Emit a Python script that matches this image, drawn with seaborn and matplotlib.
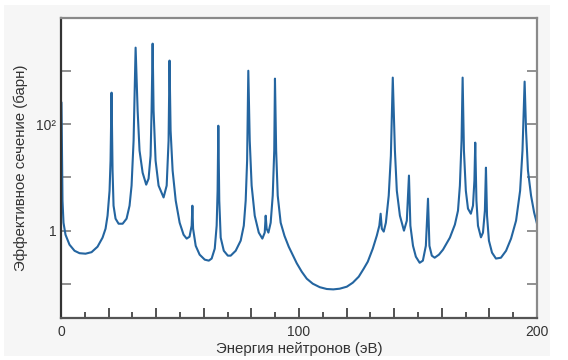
import numpy as np
import pandas as pd
import matplotlib
matplotlib.use('Agg')
import matplotlib.pyplot as plt
import seaborn as sns
from matplotlib.ticker import FixedLocator, FixedFormatter, NullLocator
from matplotlib.patches import Rectangle

# энергия нейтронов (эВ) и эффективное сечение (барн)
energy = [0.2, 0.63, 1.05, 1.89, 3.57, 5.68, 7.78, 10.3, 12.83, 15.35, 17.46, 18.72, 19.56,
          20.4, 20.82, 21.24, 21.66, 22.08, 22.92, 24.2, 25.9, 27.55, 28.8, 29.65, 30.5,
          31.35, 32.2, 33.0, 34.3, 35.8, 36.8, 37.64, 38.06, 38.5, 38.9, 39.74, 41.0, 43.1,
          44.4, 45.2, 45.6, 46.05, 46.9, 48.2, 49.85, 51.5, 52.8, 54.0, 54.9, 55.2, 55.5,
          56.6, 58.25, 60.4, 62.1, 63.3, 64.6, 65.4, 65.8, 66.1, 66.5, 67.1, 68.4, 70.1,
          71.3, 73.4, 75.5, 76.8, 77.6, 78.2, 78.7, 79.3, 80.1, 81.4, 83.1, 84.6, 85.6,
          86.0, 86.4, 87.15, 88.1, 88.96, 89.6, 89.9, 90.4, 91.06, 92.3, 93.9,
          95.69, 97.37, 99.05, 101.15, 103.26, 105.78, 108.72, 111.67, 114.4, 117.1,
          120.1, 122.6, 125.1, 127.2, 128.9,
          131.0, 132.7, 133.75, 134.3, 134.8,
          135.6, 136.5, 137.7, 138.6, 139.4, 140.3, 141.1, 142.4, 144.1, 145.3, 146.2,
          146.8, 147.9, 149.1, 150.7, 152.05, 153.3, 154.2, 154.8, 155.8, 157.0, 158.8,
          160.5, 161.7, 163.4, 165.5, 166.8, 167.6, 168.3, 168.75, 169.3, 170.1, 171.0,
          172.2, 173.1, 173.7, 174.05, 174.55, 175.2, 176.45, 177.3, 178.1, 178.55, 179.0,
          179.8, 181.1, 182.75, 184.85, 187.0, 189.1, 191.2, 192.9, 193.9, 194.8, 195.4,
          196.2, 197.5, 198.8, 200.0]

sigma = [255, 3.66, 1.41, 0.84, 0.546, 0.42, 0.378, 0.37, 0.395, 0.50, 0.74, 1.09, 1.91,
         5.6, 20.6, 388, 13.4, 2.94, 1.68, 1.35, 1.35, 1.68, 2.94, 7.0, 48.8,
         2710, 178, 31.7, 12.2, 7.3, 9.46, 25.5, 178, 3220, 178, 20.6, 7.0, 4.2,
         7.0, 48.8, 1550, 75, 13.4, 3.66, 1.41, 0.84, 0.71, 0.77, 1.24, 2.94, 1.09,
         0.52, 0.355, 0.286, 0.274, 0.30, 0.46, 1.24, 5.6, 93, 3.66, 0.74, 0.42, 0.34,
         0.34, 0.42, 0.65, 1.24, 3.66, 20.6, 1000, 48.8, 7.0, 1.91, 0.92, 0.71, 0.92,
         1.91, 1.09, 0.92, 1.41, 4.54, 31.7, 711, 31.7, 4.54, 1.41, 0.80,
         0.50, 0.350, 0.245, 0.170, 0.1257, 0.1013, 0.0871, 0.0805, 0.0792, 0.0816,
         0.0890, 0.1057, 0.137, 0.194, 0.262,
         0.46, 0.81, 1.24, 2.08, 1.09,
         0.96, 1.41, 4.54, 25.5, 743, 31.7, 5.6, 1.91, 1.0, 1.54, 10.8,
         1.24, 0.52, 0.325, 0.25, 0.274, 0.52, 3.98, 0.52, 0.34, 0.311, 0.355,
         0.44, 0.546, 0.74, 1.30, 2.37, 7.0, 48.8, 743, 31.7, 5.6, 2.59,
         2.08, 2.94, 8.67, 44.8, 3.66, 1.24, 0.75, 0.92, 2.37, 15.2, 1.91,
         0.65, 0.387, 0.30, 0.311, 0.42, 0.71, 1.54, 5.6, 31.7, 625, 75,
         13.4, 4.54, 2.18, 1.35]

# подписи осей
x_major = [0, 20, 40, 60, 80, 100, 120, 140, 160, 180, 200]
x_minor = [10, 30, 50, 70, 90, 110, 130, 150, 170, 190]
x_labels = ['0', '', '', '', '', '100', '', '', '', '', '200']
y_ticks = [0.1, 1, 10, 100, 1000]
y_labels = ['', '1', '', '10²', '']

df = pd.DataFrame({'E': energy, 'sigma': sigma})

sns.set_theme(style='ticks')
plt.rcParams['font.family'] = ['Liberation Sans', 'DejaVu Sans']

fig = plt.figure(figsize=(5.68, 3.6), dpi=100, facecolor='white')
fig.patches.append(Rectangle((4 / 568, 0.012), 546 / 568, 0.975, transform=fig.transFigure,
                             facecolor='#f6f6f6', edgecolor='none', zorder=-10))
ax = fig.add_axes([61 / 568, 1 - 318 / 360, 476 / 568, 300 / 360])
ax.set_facecolor('white')

sns.lineplot(data=df, x='E', y='sigma', ax=ax, color='#2465a0', linewidth=1.5,
             estimator=None, sort=False)

ax.set_yscale('log')
ax.set_xlim(0, 200)
ax.set_ylim(10 ** -1.638, 10 ** 3.989)

ax.xaxis.set_major_locator(FixedLocator(x_major))
ax.xaxis.set_major_formatter(FixedFormatter(x_labels))
ax.xaxis.set_minor_locator(FixedLocator(x_minor))
ax.yaxis.set_major_locator(FixedLocator(y_ticks))
ax.yaxis.set_major_formatter(FixedFormatter(y_labels))
ax.yaxis.set_minor_locator(NullLocator())

ax.tick_params(axis='x', which='major', direction='in', length=7, width=1.3,
               color='#444444', labelsize=10, labelcolor='#333333', pad=5)
ax.tick_params(axis='x', which='minor', direction='in', length=4.5, width=1.3,
               color='#444444')
ax.tick_params(axis='y', which='major', direction='in', length=7, width=1.3,
               color='#888888', labelsize=10, labelcolor='#333333', left=True, right=True)

for side, col in [('left', '#333333'), ('bottom', '#555555'),
                  ('top', '#8a8a8a'), ('right', '#8a8a8a')]:
    ax.spines[side].set_visible(True)
    ax.spines[side].set_color(col)
    ax.spines[side].set_linewidth(1.6)

ax.set_xlabel('Энергия нейтронов (эВ)', fontsize=10.8, color='#333333', labelpad=2)
ax.set_ylabel('Эффективное сечение (барн)', fontsize=10.8, color='#333333', labelpad=6)

fig.savefig('out.png', dpi=100, facecolor=fig.get_facecolor())
